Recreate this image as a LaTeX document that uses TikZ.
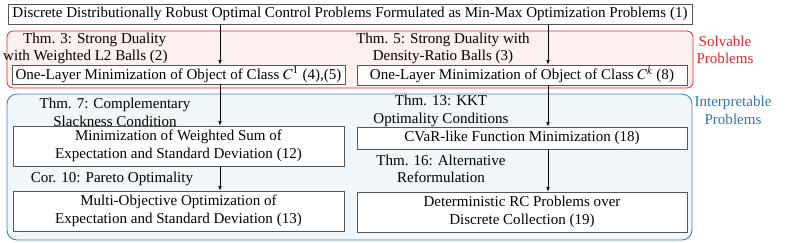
\documentclass[tikz,border=0pt]{standalone}
\usepackage{amsmath}
\usepackage{mathptmx}
\usepackage{fontspec}
\setmainfont{Liberation Serif}
\usepackage{xcolor}
\usepackage{tikz}
\usetikzlibrary{positioning}
\usetikzlibrary{arrows.meta}

\definecolor{solvred}{HTML}{E8262A}
\definecolor{solvfill}{HTML}{FDF0F0}
\definecolor{interblue}{HTML}{2E86C9}
\definecolor{intertext}{HTML}{2E75B6}
\definecolor{interfill}{HTML}{F1F6FB}
\definecolor{boxline}{HTML}{555555}

\begin{document}
\begin{tikzpicture}[x=1pt, y=-1pt,
		every node/.style={font=\fontsize{15.05}{17.5}\selectfont},
		box/.style={draw=boxline, fill=white, line width=0.7pt, inner sep=0pt, align=center},
		lbl/.style={inner sep=0pt, align=center},
		arr/.style={-{Latex[length=4.5pt,width=3.5pt]}, line width=0.7pt}]
			\useasboundingbox (0,0) rectangle (799,242);

			% Regions
			\draw[rounded corners=6pt, draw=solvred, fill=solvfill, line width=0.8pt] (7,31) rectangle (693,88);
			\draw[rounded corners=10pt, draw=interblue, fill=interfill, line width=0.9pt] (7,94) rectangle (692,240);

			% Problem boxes
			\node[box, minimum width=684, minimum height=20] (minmax) at (350,14) {Discrete Distributionally Robust Optimal Control Problems Formulated as Min-Max Optimization Problems (1)};
			\node[box, minimum width=333, minimum height=19] (classone) at (178.5,74.5) {One-Layer Minimization of Object of Class $C^{\mathrm{1}}$ (4),(5)};
			\node[box, minimum width=330, minimum height=20] (classk) at (522,75) {One-Layer Minimization of Object of Class $C^k$ (8)};
			\node[box, minimum width=331, minimum height=40] (wsum) at (178.5,146) {Minimization of Weighted Sum of\\Expectation and Standard Deviation (12)};
			\node[box, minimum width=331, minimum height=40] (multiobj) at (178.5,211) {Multi-Objective Optimization of\\Expectation and Standard Deviation (13)};
			\node[box, minimum width=330, minimum height=22] (cvar) at (522,138) {CVaR-like Function Minimization (18)};
			\node[box, minimum width=330, minimum height=40] (detrc) at (522,212) {Deterministic RC Problems over\\Discrete Collection (19)};

			% Theorem labels
			\node[lbl, align=left, anchor=west] (thmthree) at (3,48.5) {\hspace*{20pt}Thm. 3: Strong Duality\\with Weighted L2 Balls (2)};
			\node[lbl] (thmfive) at (443,48.5) {Thm. 5: Strong Duality with\\Density-Ratio Balls (3)};
			\node[lbl] (thmseven) at (115,112.5) {Thm. 7: Complementary\\Slackness Condition};
			\node[lbl] (corten) at (112,179) {Cor. 10: Pareto Optimality};
			\node[lbl] (thmthirteen) at (441,111) {Thm. 13: KKT\\Optimality Conditions};
			\node[lbl] (thmsixteen) at (441,169) {Thm. 16: Alternative\\Reformulation};

			% Region labels
			\node[lbl, text=solvred] (solvable) at (725,50) {Solvable\\Problems};
			\node[lbl, text=intertext] (interp) at (733,110.5) {Interpretable\\Problems};

			% Arrows
			\coordinate (la) at (220,0);
			\coordinate (ra) at (548,0);
			\draw[arr] (minmax.south -| la) -- (classone.north -| la);
			\draw[arr] (minmax.south -| ra) -- (classk.north -| ra);
			\draw[arr] (classone.south -| la) -- (wsum.north -| la);
			\draw[arr] (wsum.south -| la) -- (multiobj.north -| la);
			\draw[arr] (classk.south -| ra) -- (cvar.north -| ra);
			\draw[arr] (cvar.south -| ra) -- (detrc.north -| ra);

		\end{tikzpicture}
\end{document}
